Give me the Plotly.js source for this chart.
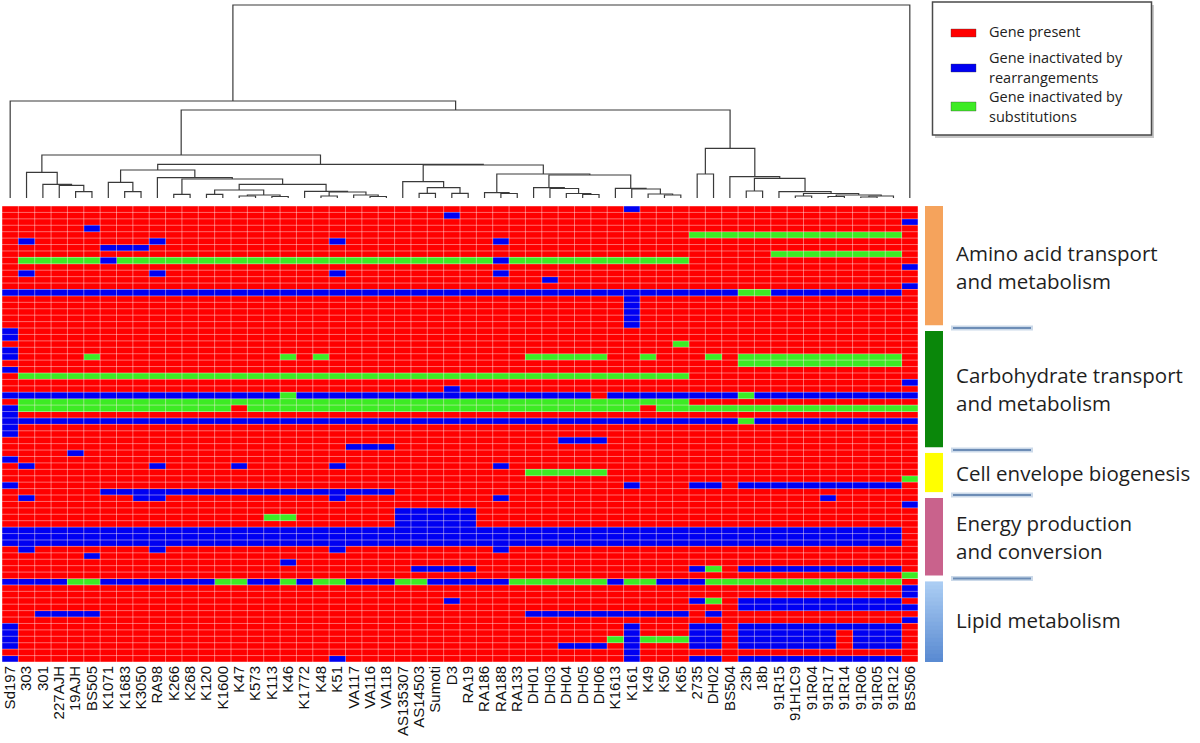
<!DOCTYPE html>
<html><head><meta charset="utf-8">
<script src="https://cdn.plot.ly/plotly-3.0.1.min.js"></script>
<style>html,body{margin:0;padding:0;background:#fff;}#chart{width:1200px;height:743px;}</style>
</head><body><div id="chart"></div>
<script>
// ---------------- DATA ----------------
const strains = ['Sd197','303','301','227AJH','19AJH','BS505','K1071','K1683','K3050','RA98',
 'K266','K268','K120','K1600','K47','K573','K113','K46','K1772','K48','K51','VA117','VA116','VA118',
 'AS135307','AS14503','Sumoti','D3','RA19','RA186','RA188','RA133','DH01','DH03','DH04','DH05','DH06',
 'K1613','K161','K49','K50','K65','2735','DH02','BS504','23b','18b','91R15','91H1C9','91R04','91R17',
 '91R14','91R06','91R05','91R12','BS506'];

// R = gene present, B = inactivated by rearrangements, G = inactivated by substitutions
const statusCodes = {R: 0, B: 1, G: 2};
const statusColors = ['#FF0000', '#0000F2', '#3DEB24'];
const legendLines = [['Gene present'], ['Gene inactivated by', 'rearrangements'], ['Gene inactivated by', 'substitutions']];

const geneRows = [
 'RRRRRRRR RRRRRRRR RRRRRRRR RRRRRRRR RRRRRRBR RRRRRRRR RRRRRRRR', // 0
 'RRRRRRRR RRRRRRRR RRRRRRRR RRRBRRRR RRRRRRRR RRRRRRRR RRRRRRRR',
 'RRRRRRRR RRRRRRRR RRRRRRRR RRRRRRRR RRRRRRRR RRRRRRRR RRRRRRRB',
 'RRRRRBRR RRRRRRRR RRRRRRRR RRRRRRRR RRRRRRRR RRRRRRRR RRRRRRRR',
 'RRRRRRRR RRRRRRRR RRRRRRRR RRRRRRRR RRRRRRRR RRGGGGGG GGGGGGGR',
 'RBRRRRRR RBRRRRRR RRRRBRRR RRRRRRBR RRRRRRRR RRRRRRRR RRRRRRRR', // 5
 'RRRRRRBB BRRRRRRR RRRRRRRR RRRRRRRR RRRRRRRR RRRRRRRR RRRRRRRR',
 'RRRRRRRR RRRRRRRR RRRRRRRR RRRRRRRR RRRRRRRR RRRRRRRG GGGGGGGR',
 'RGGGGGBG GGGGGGGG GGGGGGGG GGGGGGBG GGGGGGGG GGRRRRRR RRRRRRRR',
 'RRRRRRRR RRRRRRRR RRRRRRRR RRRRRRRR RRRRRRRR RRRRRRRR RRRRRRRB',
 'RBRRRRRR RBRRRRRR RRRRBRRR RRRRRRBR RRRRRRRR RRRRRRRR RRRRRRRR', // 10
 'RRRRRRRR RRRRRRRR RRRRRRRR RRRRRRRR RBRRRRRR RRRRRRRR RRRRRRRR',
 'RRRRRRRR RRRRRRRR RRRRRRRR RRRRRRRR RRRRRRRR RRRRRRRR RRRRRRRB',
 'BBBBBBBB BBBBBBBB BBBBBBBB BBBBBBBB BBBBBBBB BBBBBGGB BBBBBBBR',
 'RRRRRRRR RRRRRRRR RRRRRRRR RRRRRRRR RRRRRRBR RRRRRRRR RRRRRRRR',
 'RRRRRRRR RRRRRRRR RRRRRRRR RRRRRRRR RRRRRRBR RRRRRRRR RRRRRRRR', // 15
 'RRRRRRRR RRRRRRRR RRRRRRRR RRRRRRRR RRRRRRBR RRRRRRRR RRRRRRRR',
 'RRRRRRRR RRRRRRRR RRRRRRRR RRRRRRRR RRRRRRBR RRRRRRRR RRRRRRRR',
 'RRRRRRRR RRRRRRRR RRRRRRRR RRRRRRRR RRRRRRBR RRRRRRRR RRRRRRRR',
 'BRRRRRRR RRRRRRRR RRRRRRRR RRRRRRRR RRRRRRRR RRRRRRRR RRRRRRRR',
 'BRRRRRRR RRRRRRRR RRRRRRRR RRRRRRRR RRRRRRRR RRRRRRRR RRRRRRRR', // 20
 'RRRRRRRR RRRRRRRR RRRRRRRR RRRRRRRR RRRRRRRR RGRRRRRR RRRRRRRR',
 'BRRRRRRR RRRRRRRR RRRRRRRR RRRRRRRR RRRRRRRR RRRRRRRR RRRRRRRR',
 'BRRRRGRR RRRRRRRR RGRGRRRR RRRRRRRR GGGGGRRG RRRGRGGG GGGGGGGR',
 'RRRRRRRR RRRRRRRR RRRRRRRR RRRRRRRR RRRRRRRR RRRRRGGG GGGGGGGR',
 'BRRRRRRR RRRRRRRR RRRRRRRR RRRRRRRR RRRRRRRR RRRRRRRR RRRRRRRR', // 25
 'RGGGGGGG GGGGGGGG GGGGGGGG GGGGGGGG GGGGGGGG GGRRRRRR RRRRRRRR',
 'RRRRRRRR RRRRRRRR RRRRRRRR RRRRRRRR RRRRRRRR RRRRRRRR RRRRRRRB',
 'RRRRRRRR RRRRRRRR RRRRRRRR RRRBRRRR RRRRRRRR RRRRRRRR RRRRRRRR',
 'BBBBBBBB BBBBBBBB BGBBBBBB BBBBBBBB BBBBRBBB BBBBBGBB BBBBBBBB',
 'RGGGGGGG GGGGGGGG GGGGGGGG GGGGGGGG GGGGGGGG GGRRRRRR RRRRRRRR', // 30
 'BGGGGGGG GGGGGGRG GGGGGGGG GGGGGGGG GGGGGGGR GGGGGGGG GGGGGGGG',
 'BRRRRRRR RRRRRRRR RRRRRRRR RRRRRRRR RRRRRRRR RRRRRRRR RRRRRRRR',
 'BBBBBBBB BBBBBBBB BBBBBBBB BBBBBBBB BBBBBBBB BBBBBGBB BBBBBBBB',
 'BRRRRRRR RRRRRRRR RRRRRRRR RRRRRRRR RRRRRRRR RRRRRRRR RRRRRRRR',
 'BRRRRRRR RRRRRRRR RRRRRRRR RRRRRRRR RRRRRRRR RRRRRRRR RRRRRRRR', // 35
 'RRRRRRRR RRRRRRRR RRRRRRRR RRRRRRRR RRBBBRRR RRRRRRRR RRRRRRRR',
 'RRRRRRRR RRRRRRRR RRRRRBBB RRRRRRRR RRRRRRRR RRRRRRRR RRRRRRRR',
 'RRRRBRRR RRRRRRRR RRRRRRRR RRRRRRRR RRRRRRRR RRRRRRRR RRRRRRRR',
 'BRRRRRRR RRRRRRRR RRRRRRRR RRRRRRRR RRRRRRRR RRRRRRRR RRRRRRRR',
 'RBRRRRRR RBRRRRBR RRRRBRRR RRRRRRBR RRRRRRRR RRRRRRRR RRRRRRRR', // 40
 'RRRRRRRR RRRRRRRR RRRRRRRR RRRRRRRR GGGGGRRR RRRRRRRR RRRRRRRR',
 'RRRRRRRR RRRRRRRR RRRRRRRR RRRRRRRR RRRRRRRR RRRRRRRR RRRRRRRG',
 'BRRRRRRR RRRRRRRR RRRRRRRR RRRRRRRR RRRRRRBR RRBBRBBB BBBBBBBR',
 'RRRRRRBB BBBBBBBB BBBBBBBB RRRRRRRR RRRRRRRR RRRRRRRR RRRRRRRR',
 'RBRRRRRR BBRRRRRR RRRRBRRR RRRRRRBR RRRRRRRR RRRRRRRR RRBRRRRR', // 45
 'RRRRRRRR RRRRRRRR RRRRRRRR RRRRRRRR RRRRRRRR RRRRRRRR RRRRRRRB',
 'RRRRRRRR RRRRRRRR RRRRRRRR BBBBBRRR RRRRRRRR RRRRRRRR RRRRRRRR',
 'RRRRRRRR RRRRRRRR GGRRRRRR BBBBBRRR RRRRRRRR RRRRRRRR RRRRRRRR',
 'RRRRRRRR RRRRRRRR RRRRRRRR BBBBBRRR RRRRRRRR RRRRRRRR RRRRRRRR',
 'BBBBBBBB BBBBBBBB BBBBBBBB BBBBBBBB BBBBBBBB BBBBBBBB BBBBBBBR', // 50
 'BBBBBBBB BBBBBBBB BBBBBBBB BBBBBBBB BBBBBBBB BBBBBBBB BBBBBBBR',
 'BBBBBBBB BBBBBBBB BBBBBBBB BBBBBBBB BBBBBBBB BBBBBBBB BBBBBBBR',
 'RBRRRRRR RBRRRRRR RRRRBRRR RRRRRRBR RRRRRRRR RRRRRRRR RRRRRRRR',
 'RRRRRBRR RRRRRRRR RRRRRRRR RRRRRRRR RRRRRRRR RRRRRRRR RRRRRRRR',
 'RRRRRRRR RRRRRRRR RBRRRRRR RRRRRRRR RRRRRRRR RRRRRRRR RRRRRRRR', // 55
 'RRRRRRRR RRRRRRRR RRRRRRRR RBBBBRRR RRRRRRRR RRBGRBBB BBBBBBBR',
 'RRRRRRRR RRRRRRRR RRRRRRRR RRRRRRRR RRRRRRRR RRRRRRRR RRRRRRRG',
 'BBBBGGBB BBBBBGGB BGBGGBBB GGBBBBBG GGGGGBGG BBBGGGGG GGGGGGGR',
 'RRRRRRRR RRRRRRRR RRRRRRRR RRRRRRRR RRRRRRRR RRRRRRRR RRRRRRRB',
 'RRRRRRRR RRRRRRRR RRRRRRRR RRRRRRRR RRRRRRRR RRRRRRRR RRRRRRRB', // 60
 'RRRRRRRR RRRRRRRR RRRRRRRR RRRBRRRR RRRRRRRR RRBGRBBB BBBBBBBR',
 'RRRRRRRR RRRRRRRR RRRRRRRR RRRRRRRR RRRRRRRR RRRRRBBB BBBBBBBB',
 'RRBBBBRR RRRRRRRR RRRRRRRR RRRRRRRR BBBBBBBB BBRBRRRR RRRRRRRR',
 'RRRRRRRR RRRRRRRR RRRRRRRR RRRRRRRR RRRRRRRR RRRRRRRR RRRRRRRB',
 'BRRRRRRR RRRRRRRR RRRRRRRR RRRRRRRR RRRRRRBR RRBBRBBB BBBBBBBR', // 65
 'BRRRRRRR RRRRRRRR RRRRRRRR RRRRRRRR RRRRRRBR RRBBRBBB BBBRBBBR',
 'BRRRRRRR RRRRRRRR RRRRRRRR RRRRRRRR RRRRRGBG GGBBRBBB BBBRBBBR',
 'BRRRRRRR RRRRRRRR RRRRRRRR RRRRRRRR RRBBBRBR RRBBRBBB BBBRBBBR',
 'RRRRRRRR RRRRRRRR RRRRRRRR RRRRRRRR RRRRRRBR RRRRRRRR RRRRRRRR',
 'BRRRRRRR RRRRRRRR RRRRBRRR RRRRRRRR RRRRRRBR RRBBRBBB BBBBBBBR'  // 70
];

const categoryNames = [['Amino acid transport', 'and metabolism'], ['Carbohydrate transport', 'and metabolism'],
  ['Cell envelope biogenesis'], ['Energy production', 'and conversion'], ['Lipid metabolism']];
const categoryFirstRow = [0, 19, 38, 45, 58];
const categoryLastRow  = [18, 37, 44, 57, 70];
// [top colour, bottom colour] of each side-bar block
const categoryColors = [['#F5A35C', '#F5A35C'], ['#0A870A', '#0A870A'], ['#FFFF00', '#FFFF00'],
  ['#C9628C', '#C9628C'], ['#ABCDF3', '#5A8BD2']];

// Dendrogram linkage: [childA, childB, mergeHeight]; children 0..55 are strains, 56+k is merge k
const linkage = [
 [4,5,6.3],[3,56,12.7],[2,57,13.7],[1,58,25.7],            // 56-59
 [7,8,6.3],[6,60,15.7],                                      // 60-61
 [10,11,3.7],[12,13,3.7],[14,15,2],[16,17,1.5],[64,65,3],[63,66,8], // 62-67
 [19,20,2],[22,23,1.5],[21,69,3],[68,70,6],[18,71,6.7],      // 68-72
 [67,72,13.7],[62,73,19],[9,74,20.3],[61,75,28],             // 73-76
 [25,26,4.7],[27,28,4.7],[77,78,10.3],[24,79,16.3],          // 77-80
 [30,31,4.5],[29,81,5.3],                                    // 81-82
 [35,36,3.5],[34,83,4.5],[33,84,9.5],[32,85,10.3],           // 83-86
 [40,41,3],[39,87,4],[38,88,9],[37,89,9.7],                  // 87-90
 [86,90,23],[82,91,24],[80,92,33],[76,93,33.7],[59,94,43],   // 91-95
 [42,43,24],[45,46,7],[48,49,2],[50,51,1.5],[52,53,1],[100,54,2], // 96-101
 [99,101,3],[98,102,4.5],[47,103,6.3],[97,104,19.7],[44,105,21.3], // 102-106
 [96,106,49.7],[95,107,88],[0,108,97],[109,55,193]           // 107-110
];

// ---------------- BUILD ----------------
const W = 1200, H = 743;
const px = v => v / W, py = v => 1 - v / H;

const z = geneRows.map(r => r.replace(/ /g, '').split('').map(c => statusCodes[c]));
const nRows = z.length, nCols = strains.length;
const colIdx = strains.map((_, i) => i);
const rowIdx = z.map((_, i) => i);

const heat = {
  type: 'heatmap', z: z, x: colIdx, y: rowIdx, zmin: 0, zmax: 2, showscale: false, hoverinfo: 'skip',
  colorscale: [[0, statusColors[0]], [0.3333, statusColors[0]], [0.3334, statusColors[1]],
               [0.6666, statusColors[1]], [0.6667, statusColors[2]], [1, statusColors[2]]]
};

const gx = [], gy = [];
for (let i = 0; i <= nCols; i++) { gx.push(i - 0.5, i - 0.5, null); gy.push(-0.5, nRows - 0.5, null); }
for (let j = 0; j <= nRows; j++) { gx.push(-0.5, nCols - 0.5, null); gy.push(j - 0.5, j - 0.5, null); }
const grid = { type: 'scatter', mode: 'lines', x: gx, y: gy, hoverinfo: 'skip', showlegend: false,
  line: { color: 'rgba(255,235,235,0.45)', width: 1 } };

const pos = colIdx.slice(), ht = colIdx.map(() => 0);
const dx = [], dy = [];
linkage.forEach(([a, b, h], k) => {
  dx.push(pos[a], pos[a], pos[b], pos[b], null);
  dy.push(ht[a], h, h, ht[b], null);
  pos[nCols + k] = (pos[a] + pos[b]) / 2; ht[nCols + k] = h;
});
const dendro = { type: 'scatter', mode: 'lines', x: dx, y: dy, yaxis: 'y2', hoverinfo: 'skip', showlegend: false,
  line: { color: '#3a3a3a', width: 1.2 } };

function mix(c1, c2, t) {
  const a = parseInt(c1.slice(1), 16), b = parseInt(c2.slice(1), 16);
  const ch = s => Math.round(((a >> s) & 255) * (1 - t) + ((b >> s) & 255) * t);
  return 'rgb(' + ch(16) + ',' + ch(8) + ',' + ch(0) + ')';
}

const shapes = [], annotations = [];
// side category bar + separators + labels
categoryNames.forEach((lines, i) => {
  const y0 = categoryFirstRow[i] - 0.5 + (i > 0 ? 0.45 : 0);
  const y1 = categoryLastRow[i] + 0.5 - (i < categoryNames.length - 1 ? 0.45 : 0);
  const uniform = categoryColors[i][0] === categoryColors[i][1];
  const steps = uniform ? 1 : 20;
  for (let s = 0; s < steps; s++) {
    const a0 = y0 + (y1 - y0) * s / steps;
    const a1 = s < steps - 1 ? y0 + (y1 - y0) * (s + 1) / steps + 0.35 : y1;
    shapes.push({ type: 'rect', xref: 'paper', yref: 'y', x0: px(925), x1: px(943), y0: a0, y1: a1,
      fillcolor: mix(categoryColors[i][0], categoryColors[i][1], steps > 1 ? s / (steps - 1) : 0),
      line: { width: 0 }, layer: 'above' });
  }
  if (i < categoryNames.length - 1) {
    const yb = categoryLastRow[i] + 0.5;
    shapes.push({ type: 'line', xref: 'paper', yref: 'y', x0: px(951), x1: px(1033), y0: yb, y1: yb,
      line: { color: 'rgba(160,185,215,0.55)', width: 5 } });
    shapes.push({ type: 'line', xref: 'paper', yref: 'y', x0: px(953), x1: px(1031), y0: yb, y1: yb,
      line: { color: '#6D8DB6', width: 2 } });
  }
  const mid = (categoryFirstRow[i] + categoryLastRow[i]) / 2;
  lines.forEach((t, j) => {
    annotations.push({ xref: 'paper', yref: 'y', x: px(954), y: mid, xanchor: 'left', yanchor: 'middle',
      text: t, showarrow: false, yshift: lines.length > 1 ? (j === 0 ? 14 : -14) : 0,
      font: { family: 'Open Sans, Lato, sans-serif', size: 20.5, color: '#1e1e1e' } });
  });
});

// legend box
shapes.push({ type: 'rect', xref: 'paper', yref: 'paper', x0: px(935), x1: px(1154), y0: py(138), y1: py(5),
  fillcolor: 'rgba(0,0,0,0.22)', line: { width: 0 } });
shapes.push({ type: 'rect', xref: 'paper', yref: 'paper', x0: px(932.5), x1: px(1151.5), y0: py(135), y1: py(2),
  fillcolor: '#ffffff', line: { color: '#4a4a4a', width: 1.5 } });
const patchY = [[29, 37], [64, 72], [102, 111]];
const textY = [[31], [58, 78], [97, 117]];
legendLines.forEach((lines, i) => {
  shapes.push({ type: 'rect', xref: 'paper', yref: 'paper', x0: px(951), x1: px(976),
    y0: py(patchY[i][1]), y1: py(patchY[i][0]), fillcolor: statusColors[i],
    line: { color: 'rgba(60,60,60,0.35)', width: 1 } });
  lines.forEach((t, j) => annotations.push({ xref: 'paper', yref: 'paper', x: px(987), y: py(textY[i][j]),
    xanchor: 'left', yanchor: 'middle', text: t, showarrow: false,
    font: { family: 'Open Sans, sans-serif', size: 14.5, color: '#222' } }));
});

const layout = {
  width: W, height: H, margin: { l: 0, r: 0, t: 0, b: 0 }, paper_bgcolor: '#fff', plot_bgcolor: '#fff',
  showlegend: false,
  xaxis: { domain: [px(2), px(918)], range: [-0.5, nCols - 0.5], tickvals: colIdx, ticktext: strains,
    tickangle: -90, ticks: '', showgrid: false, zeroline: false, showline: false, fixedrange: true,
    tickfont: { family: 'Liberation Sans, Arial, sans-serif', size: 15, color: '#111' } },
  yaxis: { domain: [py(662), py(206)], range: [nRows - 0.5, -0.5], visible: false, fixedrange: true },
  yaxis2: { domain: [py(198), py(3)], range: [0, 195], visible: false, anchor: 'x', fixedrange: true },
  shapes: shapes, annotations: annotations
};

Plotly.newPlot('chart', [heat, grid, dendro], layout, { displayModeBar: false, staticPlot: true });
</script></body></html>
